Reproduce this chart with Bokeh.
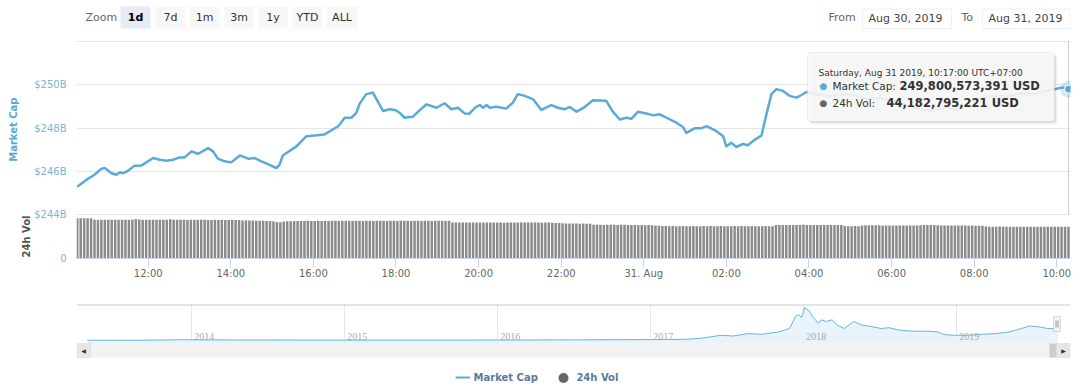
import math
from bokeh.plotting import figure
from bokeh.models import (Range1d, FixedTicker, CustomJSTickFormatter, Label, LabelSet, Title,
                          BoxAnnotation, ColumnDataSource, Legend, LegendItem)
from bokeh.layouts import column
from bokeh.embed import file_html
from bokeh.resources import INLINE

FONT = "DejaVu Sans"

# ---------------- data ----------------
# Market cap (in $B) vs. hours since 2019-08-30 00:00 (UTC+07:00)
mc_hours = [10.28, 10.50, 10.70, 10.87, 10.95, 11.11, 11.23, 11.31, 11.39, 11.51, 11.67, 11.84,
            12.12, 12.28, 12.44, 12.60, 12.76, 12.88, 13.05, 13.21, 13.45, 13.57, 13.69, 13.85,
            14.01, 14.22, 14.42, 14.58, 14.74, 14.90, 15.10, 15.18, 15.26, 15.43, 15.59, 15.83,
            16.03, 16.27, 16.47, 16.60, 16.76, 16.92, 17.04, 17.12, 17.28, 17.44, 17.53, 17.69,
            17.85, 17.97, 18.09, 18.21, 18.33, 18.41, 18.57, 18.74, 18.98, 19.18, 19.34, 19.50,
            19.66, 19.78, 19.91, 20.03, 20.11, 20.19, 20.27, 20.43, 20.67, 20.83, 20.95, 21.12,
            21.32, 21.52, 21.76, 21.92, 22.08, 22.21, 22.37, 22.53, 22.77, 23.09, 23.25, 23.42,
            23.58, 23.70, 23.86, 24.06, 24.22, 24.39, 24.55, 24.79, 24.95, 25.03, 25.23, 25.39,
            25.52, 25.76, 25.92, 26.00, 26.12, 26.24, 26.40, 26.52, 26.69, 26.85, 26.97, 27.09,
            27.21, 27.37, 27.53, 27.70, 27.82, 27.94, 28.20, 28.50, 28.80, 29.10, 29.40, 29.70,
            30.00, 30.30, 30.55, 30.75, 31.00, 31.30, 31.60, 31.90, 32.20, 32.50, 32.80, 33.10,
            33.40, 33.70, 33.95, 34.14, 34.2833]
mc_values = [245.30, 245.61, 245.85, 246.13, 246.16, 245.92, 245.85, 245.95, 245.92, 246.03, 246.27, 246.28,
             246.62, 246.54, 246.50, 246.54, 246.65, 246.65, 246.93, 246.82, 247.08, 246.93, 246.59, 246.47,
             246.42, 246.74, 246.59, 246.62, 246.47, 246.34, 246.15, 246.31, 246.74, 246.96, 247.16, 247.63,
             247.66, 247.71, 247.94, 248.09, 248.48, 248.48, 248.71, 249.13, 249.57, 249.64, 249.33, 248.79,
             248.87, 248.84, 248.71, 248.48, 248.51, 248.53, 248.82, 249.10, 248.94, 249.15, 248.87, 248.94,
             248.68, 248.67, 248.94, 249.07, 248.94, 249.07, 248.94, 248.99, 248.90, 249.18, 249.57, 249.49,
             249.33, 248.84, 249.06, 248.94, 248.87, 248.98, 248.76, 248.92, 249.29, 249.26, 248.76, 248.40,
             248.48, 248.43, 248.76, 248.68, 248.59, 248.64, 248.48, 248.25, 248.05, 247.78, 247.99, 247.99,
             248.09, 247.86, 247.63, 247.16, 247.32, 247.13, 247.27, 247.21, 247.47, 247.66, 248.64, 249.57,
             249.80, 249.72, 249.49, 249.41, 249.53, 249.67, 249.55, 249.45, 249.60, 249.50, 249.35, 249.40,
             249.25, 249.10, 248.95, 248.85, 248.80, 248.95, 248.85, 249.20, 249.40, 249.50, 249.45, 249.60,
             249.55, 249.70, 249.80, 249.88, 249.80]

# 24h volume (in $B), one bar every 5 minutes starting at 10:17
vol_start_hour = 10 + 17 / 60
vol_step_min = 5
vol_values = [
    56.0, 56.1, 55.9, 56.0, 55.8, 53.9, 53.8, 53.9, 54.0, 53.8, 53.9, 53.7,
    53.9, 54.0, 53.8, 53.9, 53.7, 55.0, 54.2, 53.8, 53.9, 53.7, 53.8, 53.9,
    53.8, 53.9, 53.7, 54.6, 53.9, 53.8, 53.7, 53.9, 53.6, 53.8, 53.7, 53.9,
    53.7, 53.8, 53.6, 53.5, 53.7, 53.6, 53.8, 53.5, 53.6, 53.7, 53.5, 53.4,
    52.9, 53.0, 52.8, 52.7, 52.6, 52.4, 52.3, 52.2, 52.0, 51.8, 50.6, 50.5,
    51.5, 51.8, 51.9, 52.1, 52.0, 52.2, 52.1, 52.3, 52.2, 52.1, 52.3, 52.2,
    52.3, 52.2, 52.4, 52.3, 52.2, 52.3, 52.4, 52.3, 52.2, 52.4, 52.3, 52.2,
    52.3, 52.4, 52.2, 52.3, 52.4, 52.3, 52.2, 52.3, 52.4, 52.2, 52.3, 52.4,
    52.3, 52.2, 52.4, 52.3, 52.2, 52.3, 52.4, 52.2, 52.3, 52.4, 52.3, 52.2,
    52.4, 50.1, 50.0, 49.9, 50.1, 50.0, 49.9, 50.1, 50.0, 49.9, 50.0, 50.1,
    50.0, 49.9, 50.1, 50.0, 49.8, 50.0, 50.1, 49.9, 50.0, 50.1, 49.9, 50.0,
    50.1, 49.9, 50.0, 49.8, 50.0, 49.9, 49.7, 49.5, 49.3, 49.1, 48.6, 48.7,
    48.5, 48.6, 48.4, 48.5, 48.3, 48.4, 47.0, 46.8, 46.9, 46.7, 46.8, 46.9,
    46.8, 46.7, 46.9, 46.8, 46.6, 46.7, 46.5, 46.6, 46.4, 46.3, 46.4, 46.2,
    45.9, 45.6, 45.3, 45.1, 44.9, 45.0, 44.9, 44.8, 45.0, 44.9, 44.8, 45.0,
    44.9, 44.8, 45.0, 44.9, 45.0, 44.8, 44.9, 45.0, 44.9, 44.8, 44.9, 45.0,
    44.9, 45.0, 44.8, 44.9, 45.0, 44.9, 44.8, 44.9, 45.0, 44.9, 44.8, 46.4,
    46.6, 46.7, 46.5, 46.6, 46.7, 46.5, 46.6, 46.8, 46.6, 46.5, 46.7, 46.6,
    46.5, 46.7, 46.6, 46.5, 46.6, 46.7, 46.4, 45.0, 44.9, 44.8, 45.0, 44.9,
    45.8, 46.1, 46.2, 46.3, 46.1, 46.2, 46.0, 45.9, 45.8, 45.9, 45.7, 45.8,
    45.8, 45.7, 45.9, 45.8, 45.7, 46.3, 46.5, 46.4, 46.6, 46.4, 46.2, 45.9,
    45.8, 45.9, 45.7, 45.8, 45.9, 45.7, 45.8, 45.6, 45.7, 45.5, 45.6, 45.4,
    44.4, 44.3, 44.2, 44.3, 44.4, 44.2, 44.3, 44.1, 44.2, 44.3, 44.2, 44.1,
    44.2, 44.3, 44.1, 44.2, 44.3, 44.1, 44.2, 44.3, 44.2, 44.1, 44.2, 44.2,
    44.18,
]

x_tick_hours = [12, 14, 16, 18, 20, 22, 24, 26, 28, 30, 32, 34]
x_tick_labels = ["12:00", "14:00", "16:00", "18:00", "20:00", "22:00", "31. Aug",
                 "02:00", "04:00", "06:00", "08:00", "10:00"]
y_ticks = [244, 246, 248, 250]
y_grid = [244, 246, 248, 250, 252]

# Navigator: total market cap (in $B) over the full history
nav_years = [2013.32, 2013.60, 2013.85, 2013.93, 2014.10, 2014.50, 2015.00, 2015.50, 2016.00, 2016.28,
             2016.50, 2017.00, 2017.23, 2017.34, 2017.46, 2017.54, 2017.64, 2017.73, 2017.84, 2017.91,
             2017.95, 2017.97, 2017.99, 2018.01, 2018.04, 2018.06, 2018.10, 2018.12, 2018.15, 2018.19,
             2018.22, 2018.27, 2018.30, 2018.33, 2018.38, 2018.45, 2018.51, 2018.56, 2018.63, 2018.72,
             2018.81, 2018.88, 2018.92, 2018.99, 2019.08, 2019.17, 2019.26, 2019.35, 2019.39, 2019.48,
             2019.53, 2019.60, 2019.64, 2019.664]
nav_values = [1.5, 1.2, 8, 14, 10, 7, 4, 3.5, 7, 9,
              11, 18, 25, 55, 125, 107, 167, 150, 210, 295,
              598, 643, 573, 815, 728, 598, 425, 513, 470, 513,
              383, 295, 383, 470, 383, 340, 295, 315, 253, 228,
              228, 210, 143, 125, 125, 150, 167, 210, 253, 358,
              340, 295, 290, 250]
nav_tick_years = [2014, 2015, 2016, 2017, 2018, 2019]

zoom_buttons = ["1d", "7d", "1m", "3m", "1y", "YTD", "ALL"]
selected_button = "1d"
date_from = "Aug 30, 2019"
date_to = "Aug 31, 2019"
tooltip_header = "Saturday, Aug 31 2019, 10:17:00 UTC+07:00"
tooltip_mc = "249,800,573,391 USD"
tooltip_vol = "44,182,795,221 USD"

# ---------------- styles / geometry (page pixels) ----------------
MC_COLOR = "#5aaad9"
VOL_COLOR = "#8a8a8a"
GRID = "#e6e6e6"
TXT = "#333333"
W = 1080
T_H, A_H, B_H = 34, 256, 99          # rows: 0-34, 34-290, 290-389
F_LEFT, F_RIGHT = 76, 1070           # all frames share these (column aligns them)
A_TOP, A_BOT = 40, 258               # main frame top / bottom

def fxA(px):
    return px - F_LEFT
def fyA(py):
    return A_BOT - py

# ---------------- top strip: range selector + date inputs ----------------
pt = figure(width=W, height=T_H, x_range=Range1d(F_LEFT, F_RIGHT), y_range=Range1d(T_H, 0),
            x_axis_location=None, y_axis_location=None, min_border_left=F_LEFT, min_border_right=W - F_RIGHT,
            min_border_top=0, min_border_bottom=0, toolbar_location=None,
            output_backend="svg", title=None, outline_line_color=None)
pt.grid.visible = False
pt.add_layout(Label(x=85, y=17, text="Zoom", text_baseline="middle", text_font=FONT,
                    text_font_size="11px", text_color="#666666"))
btn_left = [120, 155, 189, 224, 258, 292, 326]
btn_right = [150, 185, 219, 253, 287, 322, 357]
for name, l, r in zip(zoom_buttons, btn_left, btn_right):
    sel = (name == selected_button)
    pt.add_layout(BoxAnnotation(left=l, right=r, top=6, bottom=28, fill_color="#e6ebf5" if sel else "#f7f7f7",
                                fill_alpha=1, line_color=None))
    pt.add_layout(Label(x=(l + r) / 2, y=17, text=name, text_align="center", text_baseline="middle",
                        text_font=FONT, text_font_size="11px", text_font_style="bold" if sel else "normal",
                        text_color="#000000" if sel else TXT))
for lab, lx, bl, br, val in [("From", 828, 862, 951, date_from), ("To", 961, 982, 1069.5, date_to)]:
    pt.add_layout(Label(x=lx, y=17, text=lab, text_baseline="middle", text_font=FONT,
                        text_font_size="11px", text_color="#666666"))
    pt.add_layout(BoxAnnotation(left=bl, right=br, top=8.5, bottom=28, fill_color="white", fill_alpha=1,
                                line_color="#cccccc", line_width=1))
    pt.add_layout(Label(x=bl + 6, y=17.5, text=val, text_baseline="middle", text_font=FONT,
                        text_font_size="11px", text_color="#444444"))

# ---------------- main chart (market cap + volume panes) ----------------
p = figure(width=W, height=A_H, x_range=Range1d(10.264, 34.332), y_range=Range1d(241.984, 252.045),
           output_backend="svg", toolbar_location=None, title=None,
           min_border_left=F_LEFT, min_border_right=W - F_RIGHT, min_border_top=A_TOP - T_H,
           min_border_bottom=T_H + A_H - A_BOT,
           outline_line_color=None, background_fill_color="white", border_fill_color="white")
p.extra_y_ranges = {"vol": Range1d(0, 303)}

p.xgrid.visible = False
p.ygrid.ticker = FixedTicker(ticks=y_grid)
p.ygrid.grid_line_color = GRID

vol_zero = p.y_range.start   # the volume pane's 0 sits on the bottom of the frame
p.yaxis.ticker = FixedTicker(ticks=[vol_zero] + y_ticks)
p.yaxis.formatter = CustomJSTickFormatter(code="return '$' + tick + 'B'")
p.yaxis.major_label_overrides = {vol_zero: "0"}
p.yaxis.axis_line_color = None
p.yaxis.major_tick_line_color = None
p.yaxis.minor_tick_line_color = None
p.yaxis.major_tick_out = 0
p.yaxis.major_tick_in = 0
p.yaxis.major_label_standoff = 10
p.yaxis.major_label_text_font = FONT
p.yaxis.major_label_text_font_size = "10px"
p.yaxis.major_label_text_color = "#7ab4dd"

p.xaxis.ticker = FixedTicker(ticks=x_tick_hours)
p.xaxis.major_label_overrides = dict(zip(x_tick_hours, x_tick_labels))
p.xaxis.axis_line_color = "#ccd6eb"
p.xaxis.major_tick_line_color = "#ccd6eb"
p.xaxis.major_tick_out = 9
p.xaxis.major_tick_in = 0
p.xaxis.minor_tick_line_color = None
p.xaxis.major_label_standoff = 0
p.xaxis.major_label_text_font = FONT
p.xaxis.major_label_text_font_size = "10px"
p.xaxis.major_label_text_color = "#666666"

p.add_layout(Title(text="24h Vol", align="left", offset=1, standoff=0, text_font=FONT,
                   text_font_size="10px", text_font_style="bold", text_color="#555555"), "left")
p.add_layout(Title(text="Market Cap", align="right", offset=57, standoff=0, text_font=FONT,
                   text_font_size="10px", text_font_style="bold", text_color="#5aa7d6"), "left")

vol_hours = [vol_start_hour + i * vol_step_min / 60 for i in range(len(vol_values))]
p.vbar(x=vol_hours, top=vol_values, bottom=0, width=0.06, y_range_name="vol",
       fill_color=VOL_COLOR, line_color=None)

# crosshair at the hovered point
p.segment(x0=[mc_hours[-1]], y0=[y_ticks[0]], x1=[mc_hours[-1]], y1=[p.y_range.end],
          line_color="#cccccc", line_width=1)
p.line(mc_hours, mc_values, line_color=MC_COLOR, line_width=2.5, line_join="round")
p.scatter([mc_hours[-1]], [mc_values[-1]], size=17, fill_color=MC_COLOR, fill_alpha=0.25, line_color=None)
p.scatter([mc_hours[-1]], [mc_values[-1]], size=8, fill_color=MC_COLOR, line_color="white", line_width=1)

# tooltip
def boxA(l, r, t, b, **kw):
    return BoxAnnotation(left=fxA(l), right=fxA(r), top=fyA(t), bottom=fyA(b), left_units="screen",
                         right_units="screen", top_units="screen", bottom_units="screen", **kw)

tl, tr, tt, tb = 807, 1054, 52, 121
for off, a in [(3, 0.03), (2, 0.05), (1, 0.08)]:
    p.add_layout(boxA(tl + off, tr + off, tt + off, tb + off, fill_color="black", fill_alpha=a,
                      line_color=None, border_radius=3))
p.add_layout(boxA(tl, tr, tt, tb, fill_color="#f9f9f9", fill_alpha=0.9, line_color="#c8c8c8",
                  line_width=1, border_radius=3))

def labA(px, py, text, **kw):
    return Label(x=fxA(px), y=fyA(py), x_units="screen", y_units="screen", text=text,
                 text_baseline="middle", text_font=FONT, **kw)

p.add_layout(labA(818, 72.5, tooltip_header, text_font_size="9px", text_color=TXT))
for row_y, bullet_color, name, val, vx in [(85.5, MC_COLOR, "Market Cap:", tooltip_mc, 899),
                                           (102, "#666666", "24h Vol:", tooltip_vol, 886)]:
    p.add_layout(labA(819, row_y, "\u25cf", text_font_size="9px", text_color=bullet_color))
    p.add_layout(labA(832, row_y, name, text_font_size="10.5px", text_color=TXT))
    p.add_layout(labA(vx, row_y, val, text_font_size="11.5px", text_font_style="bold", text_color=TXT))

# ---------------- navigator + scrollbar + legend ----------------
B_TOP = T_H + A_H                   # 290
B_BOT = B_TOP + B_H                 # 389
NAV_ZERO_PY, NAV_B_PER_PX = 339.8, 25.0
YEAR0_PX, PX_PER_YEAR = 190.7, 153.0

def yB(py):
    return (NAV_ZERO_PY - py) * NAV_B_PER_PX

p2 = figure(width=W, height=B_H,
            x_range=Range1d(2014 - (YEAR0_PX - F_LEFT) / PX_PER_YEAR, 2014 + (F_RIGHT - YEAR0_PX) / PX_PER_YEAR),
            y_range=Range1d(yB(B_BOT), yB(B_TOP)),
            x_axis_location=None, y_axis_location=None, output_backend="svg", toolbar_location=None,
            title=None, min_border_left=F_LEFT, min_border_right=W - F_RIGHT, min_border_top=0,
            min_border_bottom=0, outline_line_color=None,
            background_fill_color="white", border_fill_color="white")
p2.xgrid.ticker = FixedTicker(ticks=nav_tick_years)
p2.xgrid.grid_line_color = GRID
p2.ygrid.visible = False

def boxB(l, r, t, b, **kw):
    return BoxAnnotation(left=l - F_LEFT, right=r - F_LEFT, top=B_BOT - t, bottom=B_BOT - b,
                         left_units="screen", right_units="screen", top_units="screen",
                         bottom_units="screen", **kw)

def labB(px, py, text, **kw):
    return Label(x=px - F_LEFT, y=B_BOT - py, x_units="screen", y_units="screen", text=text, **kw)

p2.varea(x=nav_years, y1=yB(343), y2=nav_values, fill_color="#e8f3fb", fill_alpha=1)
p2.line(nav_years, nav_values, line_color="#6cb2dc", line_width=1)

# hide grid outside the navigator band
p2.add_layout(boxB(F_LEFT, F_RIGHT, B_TOP, 304, fill_color="white", fill_alpha=1, line_color=None))
p2.add_layout(boxB(F_LEFT, F_RIGHT, 357, B_BOT, fill_color="white", fill_alpha=1, line_color=None))
p2.add_layout(boxB(F_LEFT, F_RIGHT, 304, 305, fill_color="#cccccc", fill_alpha=1, line_color=None))

year_src = ColumnDataSource(dict(x=nav_tick_years, text=[str(y) for y in nav_tick_years]))
p2.add_layout(LabelSet(x="x", y=B_BOT - 335.5, y_units="screen", text="text", source=year_src,
                       x_offset=3, text_baseline="middle", text_font=FONT, text_font_size="10px",
                       text_color="#aaaaaa"))

# navigator handle
p2.add_layout(boxB(1053, 1060, 316, 331, fill_color="#f2f2f2", fill_alpha=1, line_color="#999999"))
p2.add_layout(boxB(1055, 1056, 320, 327, fill_color="#999999", fill_alpha=1, line_color=None))
p2.add_layout(boxB(1057, 1058, 320, 327, fill_color="#999999", fill_alpha=1, line_color=None))

# scrollbar
p2.add_layout(boxB(F_LEFT, F_RIGHT, 343, 357, fill_color="#f2f2f2", fill_alpha=1, line_color=None))
p2.add_layout(boxB(1049, 1056, 343, 357, fill_color="#cccccc", fill_alpha=1, line_color=None))
p2.add_layout(boxB(F_LEFT + 0.5, F_LEFT + 14, 343, 357, fill_color="#e6e6e6", fill_alpha=1, line_color="#cccccc"))
p2.add_layout(boxB(F_RIGHT - 14, F_RIGHT - 0.5, 343, 357, fill_color="#e6e6e6", fill_alpha=1, line_color="#cccccc"))
p2.add_layout(labB(F_LEFT + 7, 350, "\u25c0", text_align="center", text_baseline="middle", text_font=FONT,
                   text_font_size="6px", text_color="#333333"))
p2.add_layout(labB(F_RIGHT - 7, 350, "\u25b6", text_align="center", text_baseline="middle", text_font=FONT,
                   text_font_size="6px", text_color="#333333"))

# legend (swatch renderers hold a single NaN point so they draw nothing in the plot)
nan = float("nan")
r_mc = p2.line(x=[nan], y=[nan], line_color=MC_COLOR, line_width=2)
r_vol = p2.scatter(x=[nan], y=[nan], marker="circle", fill_color="#666666", line_color=None)
leg_style = dict(orientation="horizontal", padding=0, margin=0, border_line_color=None,
                 background_fill_alpha=0, label_text_font=FONT, label_text_font_size="10px",
                 label_text_font_style="bold", label_text_color="#5b7a9b")
leg1 = Legend(items=[LegendItem(label="Market Cap", renderers=[r_mc])],
              location=(454.5 - F_LEFT, B_BOT - 384), glyph_width=15, glyph_height=14, label_height=14,
              label_standoff=4, **leg_style)
leg2 = Legend(items=[LegendItem(label="24h Vol", renderers=[r_vol])],
              location=(550.4 - F_LEFT, B_BOT - 389.5), glyph_width=26, glyph_height=25, label_height=25,
              label_standoff=0, **leg_style)
p2.add_layout(leg1)
p2.add_layout(leg2)

layout = column(pt, p, p2, spacing=0)
open("out.html", "w").write(file_html(layout, INLINE))
